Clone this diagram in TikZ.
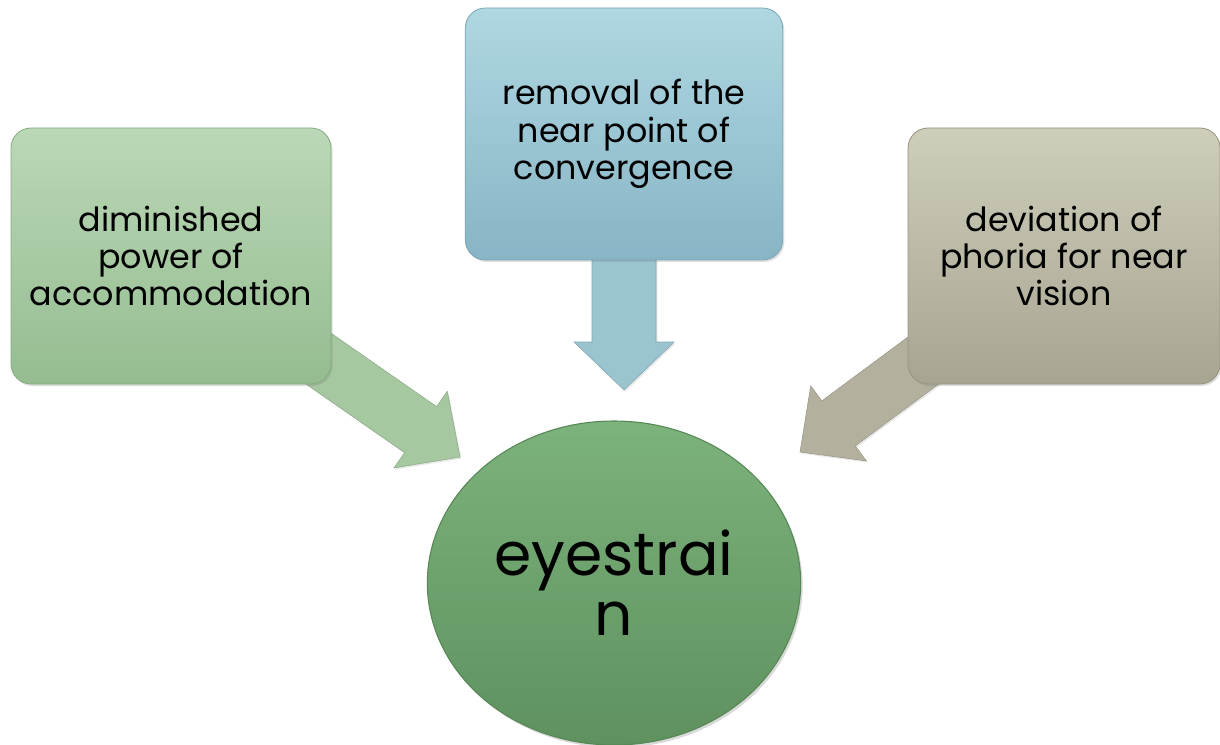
\documentclass[tikz,border=0pt]{standalone}
\usepackage{fontspec}
\setmainfont{Poppins}
\usetikzlibrary{calc,shapes.geometric,shadows}
\definecolor{lgtop}{HTML}{BAD8B6}
\definecolor{lgbot}{HTML}{95BC91}
\definecolor{lgedge}{HTML}{86AA82}
\definecolor{bltop}{HTML}{AFD7E2}
\definecolor{blbot}{HTML}{87B5C5}
\definecolor{bledge}{HTML}{7AA6B6}
\definecolor{bgtop}{HTML}{CECEBA}
\definecolor{bgbot}{HTML}{A8A492}
\definecolor{bgedge}{HTML}{979382}
\definecolor{cgtop}{HTML}{7CB27C}
\definecolor{cgbot}{HTML}{5E915E}
\definecolor{cgedge}{HTML}{578757}
\definecolor{arrL}{HTML}{A6C8A0}
\definecolor{arrC}{HTML}{9AC4D0}
\definecolor{arrR}{HTML}{B3B19E}
\pgfdeclarelayer{background}
\pgfsetlayers{background,main}
\newcommand\fatarrow[5]{%
  \coordinate (hb) at ($(#3)!36pt!(#2)$);
  \path[#1] ($(#2)!#4!90:(#3)$) -- ($(hb)!#4!-90:(#2)$) -- ($(hb)!#5!-90:(#2)$)
    -- (#3) -- ($(hb)!#5!90:(#2)$) -- ($(hb)!#4!90:(#2)$) -- ($(#2)!#4!-90:(#3)$) -- cycle;}
\begin{document}
\begin{tikzpicture}[x=0.75pt,y=-0.75pt,
  box/.style={rectangle, rounded corners=15pt, align=center, inner sep=0pt,
    font=\fontsize{25}{28}\selectfont, line width=0.6pt,
    drop shadow={shadow xshift=1.2pt, shadow yshift=-1.5pt, opacity=0.25}},
  arrowfill/.style={fill=#1, draw=#1!85!black, line width=0.4pt,
    drop shadow={shadow xshift=1pt, shadow yshift=-1.2pt, opacity=0.2}}]
\useasboundingbox (0,0) rectangle (1220,745);
% nodes
\node[box, minimum width=240pt, minimum height=192pt, top color=lgtop, bottom color=lgbot, draw=lgedge]
  (lbox) at (171,256) {diminished\\power of\\accommodation};
\node[box, minimum width=238pt, minimum height=189pt, top color=bltop, bottom color=blbot, draw=bledge]
  (cbox) at (624,134) {removal of the\\near point of\\convergence};
\node[box, minimum width=234pt, minimum height=192pt, top color=bgtop, bottom color=bgbot, draw=bgedge]
  (rbox) at (1064,256) {deviation of\\phoria for near\\vision};
\node[ellipse, minimum width=280pt, minimum height=243pt, inner sep=0pt, align=center,
  top color=cgtop, bottom color=cgbot, draw=cgedge, line width=0.8pt,
  font=\fontsize{45}{45}\selectfont,
  drop shadow={shadow xshift=1.5pt, shadow yshift=-2pt, opacity=0.3}]
  (eye) at (614,583) {eyestrai\\n};
\coordinate (tl) at (460,457);
\coordinate (tc) at (624,390);
\coordinate (tr) at (800,452);
% arrows (behind boxes)
\begin{pgfonlayer}{background}
\fatarrow{arrowfill=arrL}{lbox.center}{tl}{21pt}{35pt}
\fatarrow{arrowfill=arrC}{cbox.center}{tc}{24pt}{37.5pt}
\fatarrow{arrowfill=arrR}{rbox.center}{tr}{21pt}{35pt}
\end{pgfonlayer}
\end{tikzpicture}
\end{document}
